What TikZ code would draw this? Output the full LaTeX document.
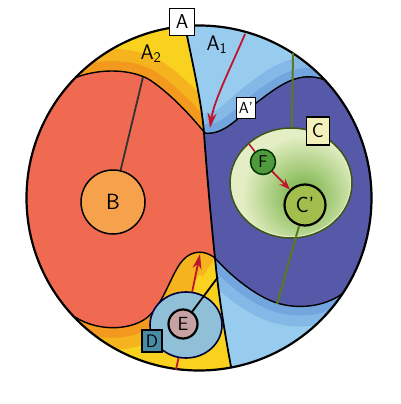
\documentclass[tikz,border=0pt]{standalone}
\usetikzlibrary{arrows.meta,shapes.geometric}
\definecolor{ayel}{HTML}{F8D21E}
\definecolor{aorg}{HTML}{F07A1E}
\definecolor{bred}{HTML}{EF6A50}
\definecolor{borg}{HTML}{F6A24C}
\definecolor{lblue}{HTML}{98CCEF}
\definecolor{mblue}{HTML}{4C7ECC}
\definecolor{dblue}{HTML}{5559A8}
\definecolor{cpale}{HTML}{E4EEC4}
\definecolor{cgreen}{HTML}{6FAE3C}
\definecolor{cpfill}{HTML}{A2BE4C}
\definecolor{ffill}{HTML}{4F9A3C}
\definecolor{dfill}{HTML}{8FC0D8}
\definecolor{efill}{HTML}{C6A2A2}
\definecolor{dlfill}{HTML}{4A8CA6}
\definecolor{clfill}{HTML}{F3F0BC}
\definecolor{redarr}{HTML}{C0142C}
\definecolor{gline}{HTML}{5A7A20}
\tikzset{
  rimstyle/.style={circle, draw, line width=2.2pt, minimum size=345pt, inner sep=0pt},
  disc/.style={circle, draw, line width=1.5pt, inner sep=0pt, font=\sffamily\fontsize{22}{22}\selectfont},
  tag/.style={draw, line width=1.3pt, fill=white, inner sep=0pt, font=\sffamily\fontsize{20}{20}\selectfont},
  bound/.style={line width=1.4pt},
  redarrow/.style={redarr, line width=1.8pt, -{Stealth[length=15pt,width=9pt]}},
}
\begin{document}
\begin{tikzpicture}[x=1pt,y=-1pt]
\useasboundingbox (0,0) rectangle (400,404);
% the regions
\begin{scope}
  \clip (199,198) circle (172.5pt);
  % right of the divider
  \begin{scope}
    \clip (185,0) -- (185,26) .. controls (194,70) and (202,105) .. (204,133)
      .. controls (207,175) and (211,220) .. (215,258)
      .. controls (219,300) and (226,340) .. (232,372) -- (232,404) -- (400,404) -- (400,0) -- cycle;
    \fill[lblue] (0,0) rectangle (400,404);
    \draw[mblue, line width=40pt, opacity=0.25]
      (204,133) .. controls (225,136) and (240,115) .. (260,100)
      .. controls (280,85) and (300,70) .. (325,80)
      (342,294) .. controls (325,306) and (300,310) .. (277,303)
      .. controls (255,296) and (230,275) .. (215,258);
    \draw[mblue, line width=18pt, opacity=0.3]
      (204,133) .. controls (225,136) and (240,115) .. (260,100)
      .. controls (280,85) and (300,70) .. (325,80)
      (342,294) .. controls (325,306) and (300,310) .. (277,303)
      .. controls (255,296) and (230,275) .. (215,258);
    \fill[dblue] (204,133) .. controls (225,136) and (240,115) .. (260,100)
      .. controls (280,85) and (300,70) .. (325,80) -- (340,60) -- (400,60) -- (400,300)
      -- (342,294) .. controls (325,306) and (300,310) .. (277,303)
      .. controls (255,296) and (230,275) .. (215,258) -- (190,258) -- (190,133) -- cycle;
  \end{scope}
  % left of the divider
  \begin{scope}
    \clip (185,0) -- (185,26) .. controls (194,70) and (202,105) .. (204,133)
      .. controls (207,175) and (211,220) .. (215,258)
      .. controls (219,300) and (226,340) .. (232,372) -- (232,404) -- (0,404) -- (0,0) -- cycle;
    \fill[ayel] (0,0) rectangle (400,404);
    \draw[aorg, line width=44pt, opacity=0.35]
      (70,80) .. controls (95,68) and (130,68) .. (150,80)
      .. controls (172,95) and (190,115) .. (205,133)
      (215,258) .. controls (205,250) and (192,250) .. (183,260)
      .. controls (172,272) and (165,300) .. (150,315)
      .. controls (135,330) and (100,333) .. (75,317);
    \draw[aorg, line width=20pt, opacity=0.45]
      (70,80) .. controls (95,68) and (130,68) .. (150,80)
      .. controls (172,95) and (190,115) .. (205,133)
      (150,315) .. controls (135,330) and (100,333) .. (75,317);
    \fill[bred] (0,80) -- (70,80) .. controls (95,68) and (130,68) .. (150,80)
      .. controls (172,95) and (190,115) .. (205,133) -- (230,133) -- (230,258)
      -- (215,258) .. controls (205,250) and (192,250) .. (183,260)
      .. controls (172,272) and (165,300) .. (150,315)
      .. controls (135,330) and (100,333) .. (75,317) -- (0,317) -- cycle;
  \end{scope}
  % boundaries
  \draw[bound] (70,80) .. controls (95,68) and (130,68) .. (150,80)
    .. controls (172,95) and (190,115) .. (205,133);
  \draw[bound] (215,258) .. controls (205,250) and (192,250) .. (183,260)
    .. controls (172,272) and (165,300) .. (150,315)
    .. controls (135,330) and (100,333) .. (75,317);
  \draw[bound] (204,133) .. controls (225,136) and (240,115) .. (260,100)
    .. controls (280,85) and (300,70) .. (325,80);
  \draw[bound] (342,294) .. controls (325,306) and (300,310) .. (277,303)
    .. controls (255,296) and (230,275) .. (215,258);
  \draw[line width=1.8pt] (185,26) .. controls (194,70) and (202,105) .. (204,133)
    .. controls (207,175) and (211,220) .. (215,258)
    .. controls (219,300) and (226,340) .. (232,372);
\end{scope}
\node[rimstyle] (rim) at (199,198) {};

% C and what sits in it
\coordinate (gtop) at (293,53);
\coordinate (gbot) at (277,304);
\coordinate (fin) at (249,144);
\node[ellipse, draw=gline!70!black, line width=1.5pt, fill=cpale, minimum width=122pt, minimum height=110pt] (cset) at (291,183) {};
\begin{scope}
  \clip (291,183) ellipse [x radius=59pt, y radius=53pt];
  \shade[inner color=cgreen, outer color=cpale] (302,196) circle (60pt);
\end{scope}
\draw[gline, line width=2pt] (gtop) -- (cset);
\node[disc, fill=ffill, draw=black!80!green, minimum size=25pt, font=\sffamily\fontsize{17}{17}\selectfont] (fset) at (263,162) {F};
\node[disc, fill=cpfill, line width=2.2pt, minimum size=41pt] (cpset) at (305,205) {C'};
\draw[gline, line width=2pt] (cpset) -- (gbot);
\draw[redarr, line width=1.6pt] (fin) -- (fset);
\draw[redarrow, -{Stealth[length=11pt,width=8pt]}] (fset) -- (cpset);

% A1 arrow
\coordinate (ast) at (245,34);
\coordinate (aend) at (210,128);
\draw[redarrow] (ast) .. controls (232,65) and (214,100) .. (aend);

% B
\coordinate (btop) at (143,77);
\node[disc, fill=borg, minimum size=64pt] (bset) at (113,202) {B};
\draw[line width=1.8pt, black!80] (btop) -- (bset);

% D and E
\coordinate (dbot) at (176,370);
\coordinate (dtop) at (200,254);
\coordinate (etip) at (218,277);
\draw[redarrow] (dbot) -- (dtop);
\node[ellipse, draw=black!75!blue, line width=1.6pt, fill=dfill, minimum width=72pt, minimum height=66pt] (dset) at (186,325) {};
\node[disc, fill=efill, line width=2.2pt, minimum size=29pt, font=\sffamily\fontsize{19}{19}\selectfont] (eset) at (183,324) {E};
\draw[line width=1.8pt] (eset) -- (etip);

% labels
\node[tag, minimum width=25pt, minimum height=27pt] (albl) at (182,22) {A};
\node[tag, minimum width=19pt, minimum height=21pt, font=\sffamily\fontsize{16}{16}\selectfont] (aplbl) at (246,108) {A'};
\node[tag, fill=clfill, minimum width=23pt, minimum height=28pt] (clbl) at (318,131) {C};
\node[tag, fill=dlfill, minimum width=20pt, minimum height=22pt, font=\sffamily\fontsize{18}{18}\selectfont] (dlbl) at (152,341) {D};
\node[font=\sffamily\fontsize{21}{21}\selectfont] (aone) at (217,45) {A\textsubscript{1}};
\node[font=\sffamily\fontsize{21}{21}\selectfont] (atwo) at (151,54) {A\textsubscript{2}};
\end{tikzpicture}
\end{document}
